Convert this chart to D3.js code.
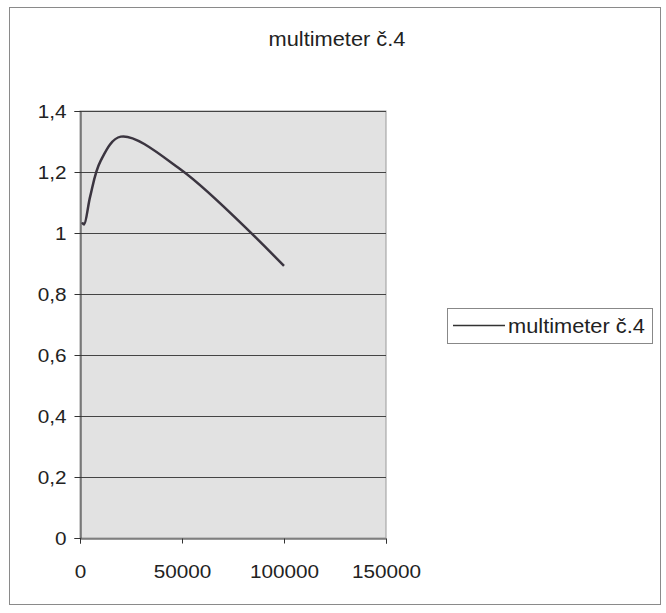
<!DOCTYPE html>
<html><head><meta charset="utf-8">
<script src="https://cdn.jsdelivr.net/npm/d3@7"></script>
<style>body{margin:0;background:#fff}svg{display:block}text{font-family:"Liberation Sans",Arial,sans-serif;fill:#222}</style>
</head><body>
<svg id="c" width="666" height="613"></svg>
<script>
const title = "multimeter č.4";
const seriesName = "multimeter č.4";
const xValues = [1000, 2000, 5000, 10000, 20000, 50000, 100000];
const yValues = [1.035, 1.028, 1.12, 1.235, 1.316, 1.205, 0.892];
const xTicks = [0, 50000, 100000, 150000];
const yTicks = [0, 0.2, 0.4, 0.6, 0.8, 1, 1.2, 1.4];

const svg = d3.select("#c");
const L = 80, R = 386, T = 111, B = 538;
const x = d3.scaleLinear().domain([0, 150000]).range([L, R]);
const y = d3.scaleLinear().domain([0, 1.4]).range([B, T]);
const fmt = d => String(d).replace(".", ",");
const WIDEN = 1.09;
function widen(sel) {
  sel.each(function () {
    const w = this.getComputedTextLength();
    d3.select(this).attr("textLength", w * WIDEN).attr("lengthAdjust", "spacingAndGlyphs");
  });
}

svg.append("rect").attr("x", 9.5).attr("y", 7.5).attr("width", 651).attr("height", 597)
  .attr("fill", "#fff").attr("stroke", "#8a8a8a").attr("stroke-width", 1);

svg.append("text").attr("x", 337).attr("y", 46).attr("text-anchor", "middle")
  .attr("font-size", 20).text(title).call(widen);

svg.append("rect").attr("x", L).attr("y", T).attr("width", R - L).attr("height", B - T)
  .attr("fill", "#e2e2e2").attr("stroke", "#9a9a9a");

svg.append("g").selectAll("line").data(yTicks.filter(d => d > 0)).join("line")
  .attr("x1", L).attr("x2", R).attr("y1", d => Math.round(y(d)) + 0.5).attr("y2", d => Math.round(y(d)) + 0.5)
  .attr("stroke", "#444").attr("stroke-width", 1);

const ya = svg.append("g").attr("transform", `translate(${L + 0.5},0)`)
  .call(d3.axisLeft(y).tickValues(yTicks).tickFormat(fmt).tickSize(6).tickPadding(8));
ya.selectAll("text").attr("font-size", 19).attr("fill", "#222").call(widen);
ya.selectAll("line,path").attr("stroke", "#333");

const xa = svg.append("g").attr("transform", `translate(0,${B + 0.5})`)
  .call(d3.axisBottom(x).tickValues(xTicks).tickFormat(d => String(d)).tickSize(5).tickPadding(21));
xa.selectAll("text").attr("font-size", 19).attr("fill", "#222").call(widen);
xa.selectAll("line,path").attr("stroke", "#333");

const line = d3.line().x(d => x(d[0])).y(d => y(d[1])).curve(d3.curveCatmullRom.alpha(0.5));
svg.append("path").datum(xValues.map((v, i) => [v, yValues[i]]))
  .attr("d", line).attr("fill", "none").attr("stroke", "#3b3540").attr("stroke-width", 2.5);

const lg = svg.append("g");
lg.append("rect").attr("x", 447.5).attr("y", 308.5).attr("width", 205).attr("height", 35)
  .attr("fill", "#fff").attr("stroke", "#888");
lg.append("line").attr("x1", 453).attr("x2", 505).attr("y1", 325.5).attr("y2", 325.5)
  .attr("stroke", "#333").attr("stroke-width", 1.5);
lg.append("text").attr("x", 508).attr("y", 333).attr("font-size", 20).text(seriesName).call(widen);
</script>
</body></html>
